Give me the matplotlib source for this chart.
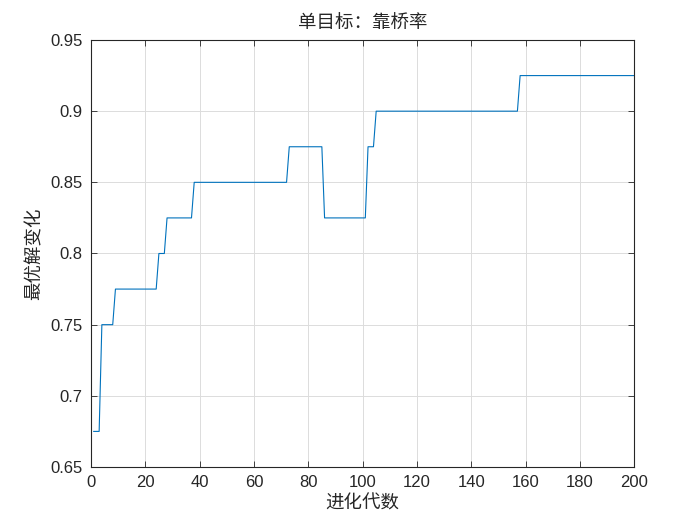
import matplotlib
matplotlib.use("Agg")
import matplotlib.pyplot as plt

# generation numbers where the best value changes, and the value there
generations = [1, 3, 4, 8, 9, 24, 25, 27, 28, 37, 38, 72, 73, 85, 86,
               101, 102, 104, 105, 157, 158, 200]
best_values = [0.675, 0.675, 0.75, 0.75, 0.775, 0.775, 0.8, 0.8, 0.825, 0.825,
               0.85, 0.85, 0.875, 0.875, 0.825, 0.825, 0.875, 0.875,
               0.9, 0.9, 0.925, 0.925]

x_ticks = [0, 20, 40, 60, 80, 100, 120, 140, 160, 180, 200]
y_ticks = [0.65, 0.7, 0.75, 0.8, 0.85, 0.9, 0.95]
y_labels = ['0.65', '0.7', '0.75', '0.8', '0.85', '0.9', '0.95']

cjk = ['Noto Sans CJK SC', 'DejaVu Sans']
tick_font = 'Liberation Sans'
dark = '#262626'

fig = plt.figure(figsize=(7, 5.25), dpi=100)
ax = fig.add_axes([0.13, 0.1105, 0.776, 0.8133])

ax.plot(generations, best_values, color='#0072BD', linewidth=0.8)

ax.set_xlim(0, 200)
ax.set_ylim(0.65, 0.95)
ax.set_xticks(x_ticks)
ax.set_yticks(y_ticks)
ax.set_yticklabels(y_labels)
for lab in ax.get_xticklabels() + ax.get_yticklabels():
    lab.set_fontfamily(tick_font)
    lab.set_fontsize(12)
    lab.set_color(dark)

ax.tick_params(direction='in', length=4, width=0.6, colors=dark,
               top=True, right=True, pad=6)
for s in ax.spines.values():
    s.set_color(dark)
    s.set_linewidth(0.8)

ax.grid(True, color='#dcdcdc', linewidth=0.7)
ax.set_axisbelow(True)

ax.set_title('单目标：靠桥率', family=cjk, fontsize=13.3, color=dark,
             fontweight='light', pad=8)
ax.set_xlabel('进化代数', family=cjk, fontsize=13.3, color=dark,
              fontweight='light', labelpad=3)
ax.set_ylabel('最优解变化', family=cjk, fontsize=13.3, color=dark,
              fontweight='light', labelpad=5)

fig.savefig('out.png', dpi=100, facecolor='white')
